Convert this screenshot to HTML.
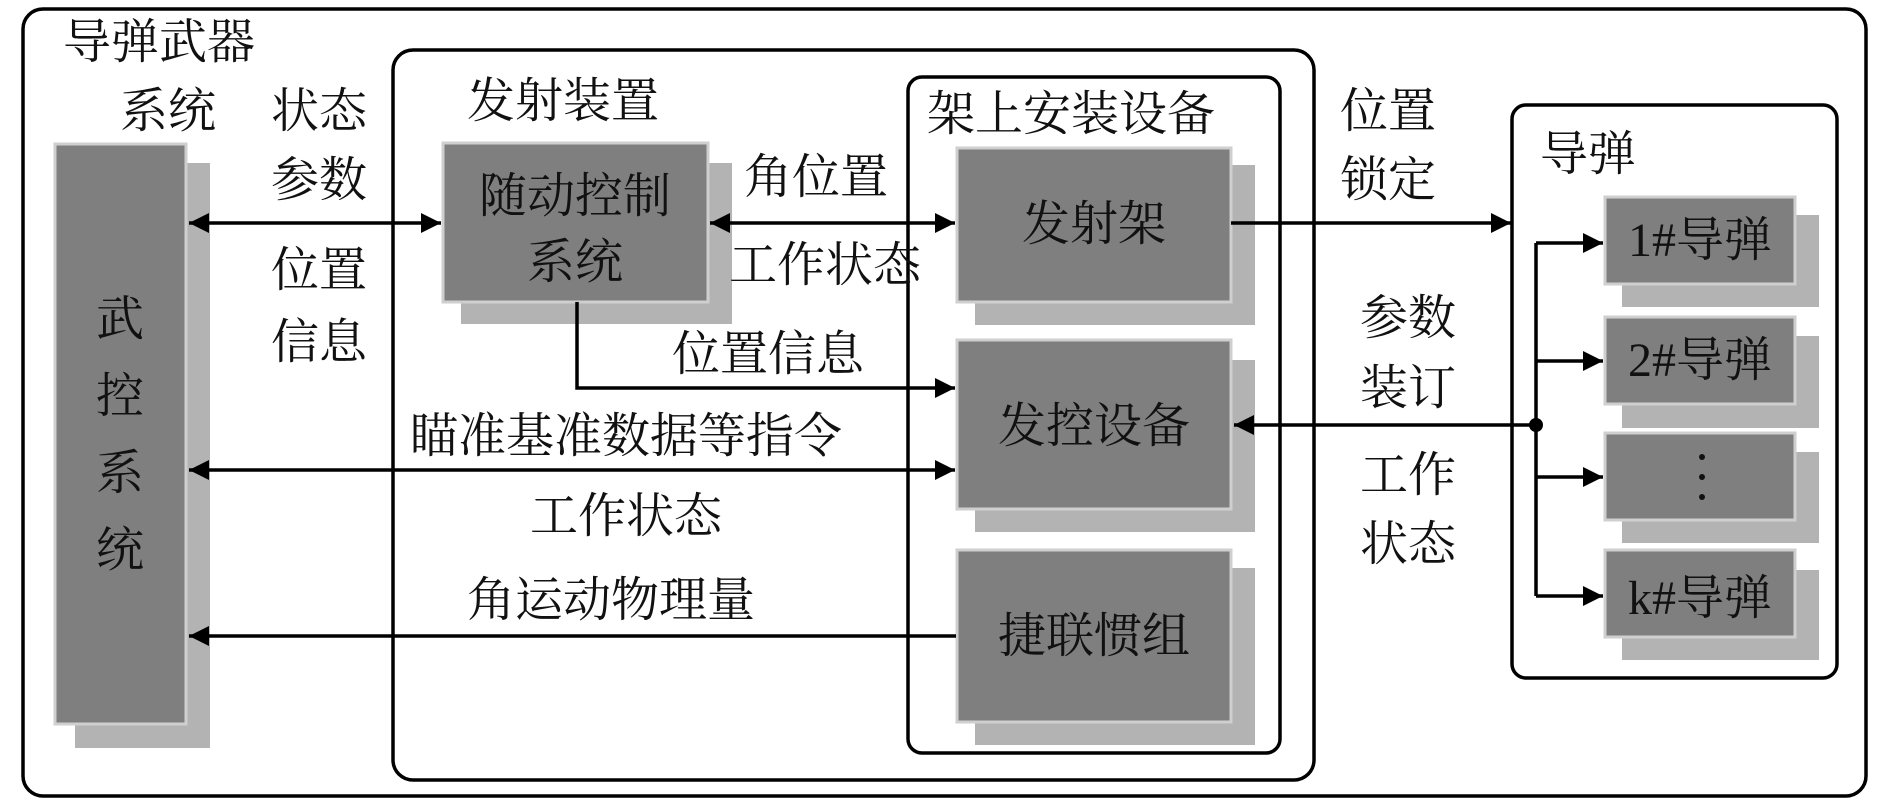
<!DOCTYPE html>
<html><head><meta charset="utf-8"><style>
html,body{margin:0;padding:0;background:#fff}
svg text{font-family:"Liberation Serif","Noto Serif CJK SC",serif;font-size:48px;fill:#111}
</style></head><body>
<svg width="1890" height="803" viewBox="0 0 1890 803" xmlns="http://www.w3.org/2000/svg">
<defs>
<marker id="a" viewBox="0 0 10 10" refX="10" refY="5" markerWidth="9" markerHeight="7" markerUnits="userSpaceOnUse" orient="auto-start-reverse"><path d="M0,0 L10,5 L0,10 z" fill="#000"/></marker>
<marker id="b" viewBox="0 0 10 10" refX="10" refY="5" markerWidth="30" markerHeight="20" markerUnits="userSpaceOnUse" orient="auto-start-reverse"><path d="M0,0 L10,5 L0,10 z" fill="#000"/></marker>
</defs>
<g fill="none" stroke="#000" stroke-width="3.5">
<rect x="23" y="9" width="1843" height="787" rx="20"/>
<rect x="393" y="50" width="921" height="730" rx="20"/>
<rect x="908" y="77" width="372" height="676" rx="14"/>
<rect x="1512" y="105" width="325" height="573" rx="14"/>
</g>
<!-- shadows -->
<g fill="#b3b3b3">
<rect x="75" y="163" width="135" height="585"/>
<rect x="461" y="163" width="271" height="161"/>
<rect x="975" y="165" width="280" height="160"/>
<rect x="975" y="360" width="280" height="172"/>
<rect x="975" y="568" width="280" height="177"/>
<rect x="1622" y="215" width="197" height="92"/>
<rect x="1622" y="336" width="197" height="92"/>
<rect x="1622" y="452" width="197" height="91"/>
<rect x="1622" y="570" width="197" height="90"/>
</g>
<g fill="#7f7f7f" stroke="#cfcfcf" stroke-width="3">
<rect x="55" y="144" width="131" height="580"/>
<rect x="443" y="143" width="265" height="159"/>
<rect x="957" y="148" width="274" height="154"/>
<rect x="957" y="340" width="274" height="169"/>
<rect x="957" y="550" width="274" height="172"/>
<rect x="1605" y="197" width="190" height="87"/>
<rect x="1605" y="317" width="190" height="87"/>
<rect x="1605" y="433" width="190" height="87"/>
<rect x="1605" y="550" width="190" height="87"/>
</g>
<!-- connectors -->
<g stroke="#000" stroke-width="3.5" fill="none">
<line x1="189" y1="223" x2="441" y2="223" marker-start="url(#b)" marker-end="url(#b)"/>
<line x1="710" y1="223" x2="955" y2="223" marker-start="url(#b)" marker-end="url(#b)"/>
<polyline points="577,302 577,388 955,388" marker-end="url(#b)"/>
<line x1="189" y1="470" x2="955" y2="470" marker-start="url(#b)" marker-end="url(#b)"/>
<line x1="956" y1="636" x2="189" y2="636" marker-end="url(#b)"/>
<line x1="1231" y1="223" x2="1511" y2="223" marker-end="url(#b)"/>
<line x1="1536" y1="425" x2="1234" y2="425" marker-end="url(#b)"/>
<line x1="1536" y1="243" x2="1536" y2="596"/>
<line x1="1536" y1="243" x2="1603" y2="243" marker-end="url(#b)"/>
<line x1="1536" y1="361" x2="1603" y2="361" marker-end="url(#b)"/>
<line x1="1536" y1="477" x2="1603" y2="477" marker-end="url(#b)"/>
<line x1="1536" y1="596" x2="1603" y2="596" marker-end="url(#b)"/>
</g>
<circle cx="1536" cy="425" r="7" fill="#000"/>
<!-- labels -->
<g>
<text x="63" y="58">导弹武器</text>
<text x="120" y="127">系统</text>
<text x="271" y="127">状态</text>
<text x="271" y="196">参数</text>
<text x="271" y="286">位置</text>
<text x="271" y="358">信息</text>
<text x="467" y="117">发射装置</text>
<text x="927" y="130">架上安装设备</text>
<text x="744" y="193">角位置</text>
<text x="729" y="281">工作状态</text>
<text x="672" y="370">位置信息</text>
<text x="410" y="452">瞄准基准数据等指令</text>
<text x="530" y="532">工作状态</text>
<text x="467" y="616">角运动物理量</text>
<text x="1340" y="127">位置</text>
<text x="1340" y="196">锁定</text>
<text x="1360" y="334">参数</text>
<text x="1360" y="404">装订</text>
<text x="1360" y="491">工作</text>
<text x="1360" y="560">状态</text>
<text x="1540" y="170">导弹</text>
</g>
<g fill="#111">
<text x="96" y="335">武</text>
<text x="96" y="412">控</text>
<text x="96" y="489">系</text>
<text x="96" y="566">统</text>
<text x="575" y="212" text-anchor="middle">随动控制</text>
<text x="575" y="278" text-anchor="middle">系统</text>
<text x="1094" y="240" text-anchor="middle">发射架</text>
<text x="1094" y="442" text-anchor="middle">发控设备</text>
<text x="1094" y="652" text-anchor="middle">捷联惯组</text>
<text x="1700" y="256" text-anchor="middle">1#导弹</text>
<text x="1700" y="376" text-anchor="middle">2#导弹</text>
<text x="1700" y="614" text-anchor="middle">k#导弹</text>
</g>
<g fill="#111"><circle cx="1702" cy="457" r="3"/><circle cx="1702" cy="477" r="3"/><circle cx="1702" cy="497" r="3"/></g>
</svg>
</body></html>
